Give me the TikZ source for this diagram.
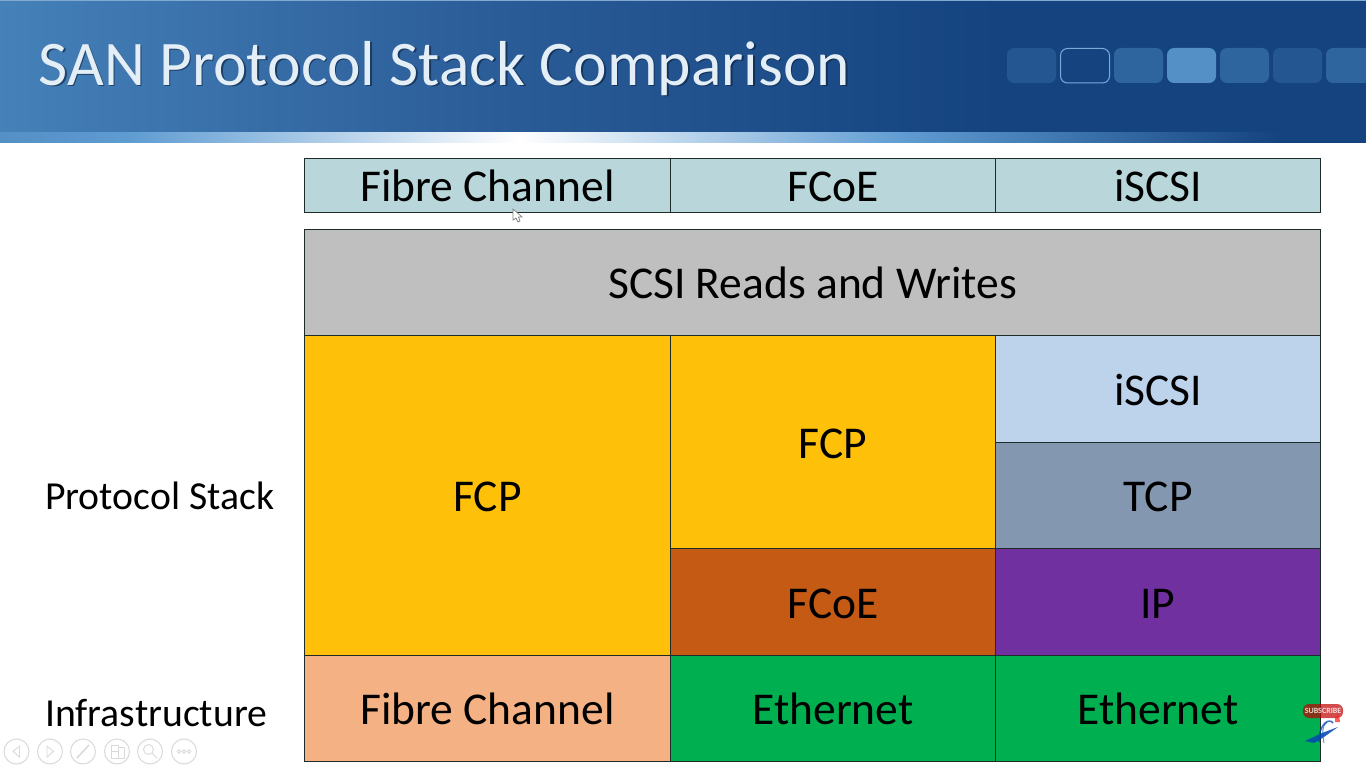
\documentclass[tikz,border=0pt]{standalone}
\usepackage{fontspec}
\setmainfont{Carlito}
\definecolor{hdrfill}{HTML}{B9D7DA}
\definecolor{grayfill}{HTML}{BFBFBF}
\definecolor{amberfill}{HTML}{FFC00A}
\definecolor{rustfill}{HTML}{C55A15}
\definecolor{skyfill}{HTML}{BDD3EC}
\definecolor{slatefill}{HTML}{8497B0}
\definecolor{purplefill}{HTML}{7030A0}
\definecolor{peachfill}{HTML}{F4B183}
\definecolor{greenfill}{HTML}{00B050}
\definecolor{edgeink}{HTML}{1F2A2A}
\definecolor{bannerlight}{HTML}{4A86BD}
\definecolor{bannermid}{HTML}{2A5C98}
\definecolor{bannerdark}{HTML}{14437F}
\definecolor{striplight}{HTML}{5F9CD2}
\definecolor{titleink}{HTML}{E4EEF6}
\definecolor{iconink}{HTML}{DADADA}
\tikzset{
  x=1pt,y=-1pt,
  cell/.style={draw=edgeink,line width=1pt,inner sep=0pt,text=black,text height=35pt,text depth=3pt,font=\fontsize{45.5}{48}\selectfont},
  sidelabel/.style={inner sep=0pt,text=black,font=\fontsize{39.7}{44}\selectfont},
  pill/.style={rounded corners=7pt},
  navicon/.style={draw=iconink,line width=1pt,circle,minimum size=25pt,inner sep=0pt},
  navmark/.style={draw=iconink,line width=0.9pt},
}
\newcommand{\cellnode}[7]{% name x1 y1 x2 y2 fill text
  \node[cell,fill=#6,minimum width=#4pt-#2pt,minimum height=#5pt-#3pt,anchor=north west] (#1) at (#2,#3) {#7};}
\begin{document}
\begin{tikzpicture}
\useasboundingbox (0,0) rectangle (1366,768);
\fill[white] (0,0) rectangle (1366,768);
% banner
\fill[left color=bannerlight!92!bannerdark,right color=bannermid] (0,0) rectangle (500,132);
\fill[left color=bannermid,right color=bannerdark] (499.5,0) rectangle (1000,132);
\fill[bannerdark] (999.5,0) rectangle (1366,132);
\fill[bannerlight!70!white] (0,0) rectangle (1366,1.2);
% strip
\fill[left color=striplight!85!bannerdark,right color=striplight] (0,132) rectangle (130,142.5);
\fill[left color=striplight,right color=white] (129.5,132) rectangle (520,142.5);
\fill[left color=white,right color=striplight] (519.5,132) rectangle (904,142.5);
\fill[left color=striplight,right color=bannerdark] (903.5,132) rectangle (1280,142.5);
\fill[bannerdark] (1279.5,132) rectangle (1366,142.5);
% pills
\fill[pill,fill=bannerlight!30!bannerdark] (1007,48) rectangle (1056,83);
\draw[pill,draw=striplight!85!white,line width=1pt,fill=bannerdark] (1060.5,48.5) rectangle (1109.5,83);
\fill[pill,fill=bannerlight!50!bannerdark] (1114,48) rectangle (1163,83);
\fill[pill,fill=striplight!85!bannerdark] (1167,48) rectangle (1216,83);
\fill[pill,fill=bannerlight!50!bannerdark] (1220,48) rectangle (1269,83);
\fill[pill,fill=bannerlight!30!bannerdark] (1273,48) rectangle (1322,83);
\fill[pill,fill=bannerlight!50!bannerdark] (1326,48) rectangle (1380,83);
% title
\node[anchor=base west,inner sep=0pt,text=black!55!bannerdark,opacity=0.6,font=\fontsize{63.5}{66}\selectfont] at (40,86.5) {SAN Protocol Stack Comparison};
\node[anchor=base west,inner sep=0pt,text=titleink,font=\fontsize{63.5}{66}\selectfont] (title) at (38.5,85) {SAN Protocol Stack Comparison};
% headers
\cellnode{hfc}{304}{158}{670}{212}{hdrfill}{Fibre Channel}
\cellnode{hfcoe}{670}{158}{995}{212}{hdrfill}{FCoE}
\cellnode{hiscsi}{995}{158}{1320}{212}{hdrfill}{iSCSI}
% stack
\cellnode{scsi}{304}{229}{1320}{335}{grayfill}{SCSI Reads and Writes}
\cellnode{fcpa}{304}{335}{670}{655}{amberfill}{FCP}
\cellnode{fcpb}{670}{335}{995}{548}{amberfill}{FCP}
\cellnode{fcoe}{670}{548}{995}{655}{rustfill}{FCoE}
\cellnode{iscsi}{995}{335}{1320}{442}{skyfill}{iSCSI}
\cellnode{tcp}{995}{442}{1320}{548}{slatefill}{TCP}
\cellnode{ip}{995}{548}{1320}{655}{purplefill}{IP}
\cellnode{infa}{304}{655}{670}{761}{peachfill}{Fibre Channel}
\cellnode{infb}{670}{655}{995}{761}{greenfill}{Ethernet}
\cellnode{infc}{995}{655}{1320}{761}{greenfill}{Ethernet}
% side labels
\node[sidelabel,anchor=base west] (lstack) at (45,509) {Protocol Stack};
\node[sidelabel,anchor=base west] (linfra) at (45,726) {Infrastructure};
% slide show controls
\node[navicon] (n1) at (16.5,751.5) {};
\node[navicon] (n2) at (50,751.5) {};
\node[navicon] (n3) at (83,751.5) {};
\node[navicon] (n4) at (117,751.5) {};
\node[navicon] (n5) at (150,751.5) {};
\node[navicon] (n6) at (184,751.5) {};
\draw[navmark] (19.5,746) -- (13,751.5) -- (19.5,757) -- cycle;
\draw[navmark] (47,746) -- (53.5,751.5) -- (47,757) -- cycle;
\draw[navmark,line width=1.6pt] (77,758) -- (89,745);
\draw[navmark] (111,745) rectangle (118,751) (118,747) rectangle (124,758) (111,751) rectangle (118,758);
\draw[navmark] (148.5,749.5) circle (5) (152,753) -- (157,758);
\draw[navmark] (179,751.5) circle (1.7) (184,751.5) circle (1.7) (189,751.5) circle (1.7);
% subscribe badge and logo
\fill[red!75!black,opacity=0.7,rounded corners=6pt] (1303,704) rectangle (1343,718);
\node[inner sep=0pt,text=white,opacity=0.8,font=\fontsize{8}{9}\selectfont\bfseries] (sub) at (1323,711) {SUBSCRIBE};
\fill[red!85!white,opacity=0.75] (1335,716) -- (1339,715) -- (1340,722) -- (1335,722) -- cycle;
\fill[blue!60!cyan!70!black,opacity=0.85] (1305,741) -- (1322,733) -- (1338,727) -- (1324,737) -- (1314,743) -- cycle;
\draw[blue!60!cyan!70!black,opacity=0.75,line width=1.5pt] (1319,742) .. controls (1319,722) and (1330,718) .. (1333,723);
\draw[blue!60!cyan!70!black,opacity=0.6,line width=1pt] (1324,743) .. controls (1322,732) and (1322,726) .. (1327,722);
% cursor
\draw[gray,fill=white,line width=0.7pt] (513,209) -- (513,220) -- (516,218) -- (518,222) -- (520,221) -- (518.5,217) -- (522,217) -- cycle;
\end{tikzpicture}
\end{document}
